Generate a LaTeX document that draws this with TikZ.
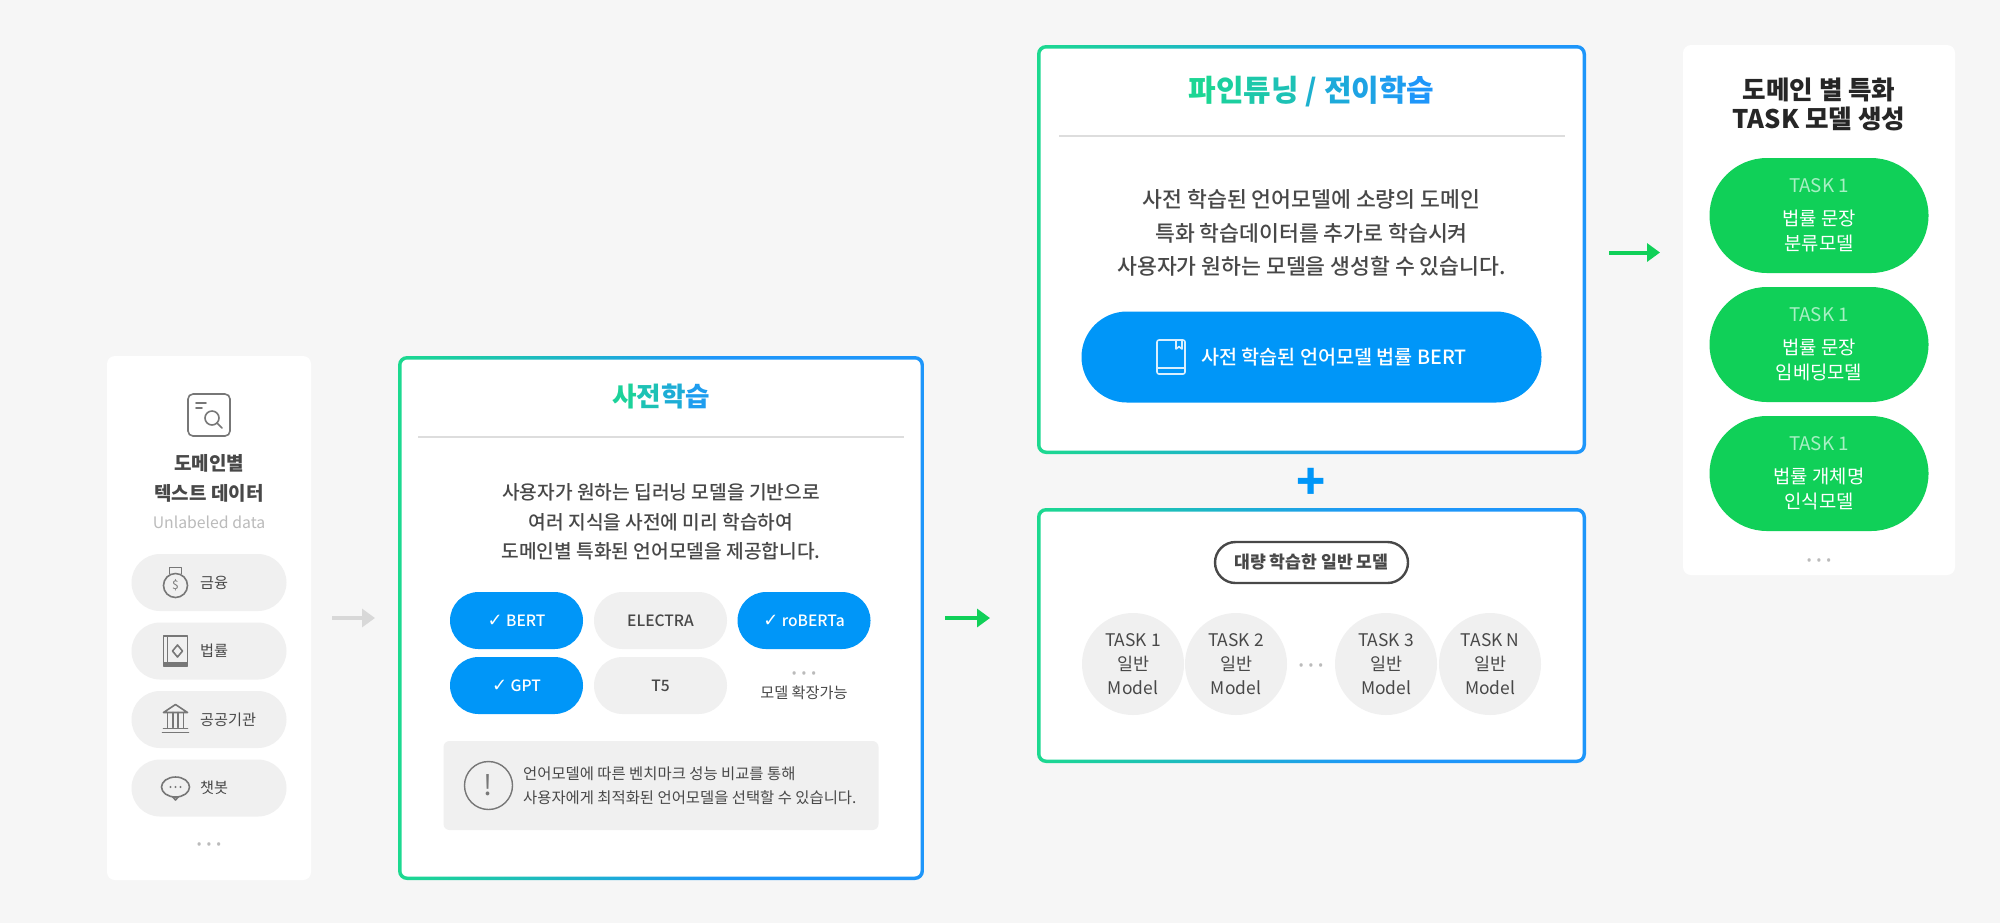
\documentclass[tikz,border=0pt]{standalone}
\usepackage{fontspec}
\setmainfont{Noto Sans CJK KR}
\newfontfamily\medfont{Noto Sans CJK KR Medium}
\newfontfamily\chkfont{DejaVu Sans}
\usepackage{xcolor}
\usetikzlibrary{positioning, arrows.meta, shapes.misc, calc}

\definecolor{pagegray}{HTML}{F6F6F6}
\definecolor{softgray}{HTML}{F0F0F0}
\definecolor{rulegray}{HTML}{DDDDDD}
\definecolor{textgray}{HTML}{484848}
\definecolor{icongray}{HTML}{777777}
\definecolor{dotgray}{HTML}{BBBBBB}
\definecolor{fillblue}{HTML}{0096F8}
\definecolor{fillgreen}{HTML}{10D058}
\definecolor{gradgreen}{HTML}{1CD98F}
\definecolor{gradblue}{HTML}{1E96FA}
\definecolor{arrowgray}{HTML}{D8D8D8}
\definecolor{tasklight}{HTML}{A8F0C4}

\pgfdeclarehorizontalshading{panelgrad}{100bp}{color(0bp)=(gradgreen); color(25bp)=(gradgreen); color(55bp)=(gradblue); color(100bp)=(gradblue)}
\newcommand{\gradch}[2]{\textcolor{gradgreen!#1!gradblue}{#2}}

\begin{document}
\begin{tikzpicture}[
        x=1pt, y=1pt,
        outer sep=0pt,
        bgpanel/.style  = {rectangle, fill=pagegray, minimum width=1000pt, minimum height=461.5pt, inner sep=0pt},
        card/.style     = {rectangle, rounded corners=4pt, fill=white, inner sep=0pt},
        panel/.style    = {rectangle, rounded corners=4.5pt, shading=panelgrad, inner sep=0pt},
        panelin/.style  = {rectangle, rounded corners=3pt, fill=white, inner sep=0pt},
        ruleline/.style = {rectangle, fill=rulegray, minimum height=1pt, inner sep=0pt},
        soft/.style     = {rounded rectangle, fill=softgray, inner sep=0pt},
        datapill/.style = {soft, minimum width=77.5pt, minimum height=28.5pt},
        datatext/.style = {font=\fontsize{7.6}{9}\selectfont, text=textgray, anchor=west},
        modelon/.style  = {rounded rectangle, fill=fillblue, inner sep=0pt, minimum width=66.5pt, minimum height=28.5pt, text=white, font=\fontsize{7.8}{9}\selectfont\medfont},
        modeloff/.style = {soft, minimum width=66.5pt, minimum height=28.5pt, text=textgray, font=\fontsize{7.8}{9}\selectfont\medfont},
        dots/.style     = {font=\fontsize{8}{9}\selectfont\bfseries, text=dotgray, yshift=-2pt},
        body/.style     = {align=center, text=textgray},
        taskdisc/.style = {circle, fill=softgray, minimum size=51pt, inner sep=0pt, align=center, text=textgray, font=\fontsize{8.7}{12}\selectfont},
        taskpill/.style = {rounded rectangle, fill=fillgreen, minimum width=109.5pt, minimum height=57.5pt, inner sep=0pt, align=center, text=white, font=\fontsize{9.4}{12.75}\selectfont},
        arrow/.style    = {-{Triangle[length=6.5pt, width=9pt]}, line width=2pt},
        icon/.style     = {draw=icongray, line width=0.8pt, line join=round, line cap=round},
    ]
    \node[bgpanel, anchor=north west] (bg) at (0,0) {};
    \useasboundingbox (bg.north west) rectangle (bg.south east);

    %---- data card ----
    \node[card, minimum width=102pt, minimum height=262pt, below right=178pt and 53.5pt of bg.north west] (datacard) {};
    \begin{scope}[shift={($(datacard.north)+(0,-29.5)$)}, icon]
        \draw[rounded corners=2.5pt] (-10.5,-10.5) rectangle (10.5,10.5);
        \draw (-6.5,6) -- (-1.5,6) (-6.5,3.5) -- (-3.5,3.5);
        \draw (1.5,-1.5) circle (3.5);
        \draw (4,-4) -- (6.5,-6.5);
    \end{scope}
    \node[font=\fontsize{9.5}{15}\selectfont\bfseries, align=center, text=textgray] (datatitle) at ($(datacard.north)+(0,-61)$) {도메인별\\텍스트 데이터};
    \node[font=\fontsize{7.9}{9}\selectfont, text=dotgray] (datasub) at ($(datacard.north)+(0,-83)$) {Unlabeled data};

    \node[datapill, below=99pt of datacard.north] (finance) {};
    \node[datapill, below=5.75pt of finance] (law) {};
    \node[datapill, below=5.75pt of law] (public) {};
    \node[datapill, below=5.75pt of public] (chatbot) {};
    \node[datatext] (financetext) at ($(finance.west)+(31,0)$) {금융};
    \node[datatext] (lawtext) at ($(law.west)+(31,0)$) {법률};
    \node[datatext] (publictext) at ($(public.west)+(31,0)$) {공공기관};
    \node[datatext] (chatbottext) at ($(chatbot.west)+(31,0)$) {챗봇};
    \node[dots] (datamore) at ($(datacard.south)+(0,18.5)$) {···};

    \begin{scope}[shift={($(finance.west)+(22,0)$)}, icon]
        \draw (0,-1.5) circle (6);
        \draw (-3,4.5) -- (-3,7.5) -- (3,7.5) -- (3,4.5);
        \node[font=\fontsize{6}{6}\selectfont, text=icongray] (dollar) at (0,-1.5) {\$};
    \end{scope}
    \begin{scope}[shift={($(law.west)+(22,0)$)}, icon]
        \draw (-6,-7.5) rectangle (6,7.5);
        \fill[icongray] (-6,-7.5) rectangle (6,-5.5);
        \draw (-4,-5.5) -- (-4,7.5);
        \draw (1,3) -- (3.5,0) -- (1,-3) -- (-1.5,0) -- cycle;
    \end{scope}
    \begin{scope}[shift={($(public.west)+(22,0)$)}, icon]
        \draw (-6,3.5) -- (0,7.5) -- (6,3.5) -- cycle;
        \draw (-4,3.5) -- (-4,-4) (-1.3,3.5) -- (-1.3,-4) (1.3,3.5) -- (1.3,-4) (4,3.5) -- (4,-4);
        \draw (-6,-4.5) -- (6,-4.5) (-6.5,-6.5) -- (6.5,-6.5);
    \end{scope}
    \begin{scope}[shift={($(chatbot.west)+(22,0)$)}, icon]
        \draw (0,0.5) ellipse (7 and 5);
        \draw (-1.5,-4.3) -- (0,-6) -- (1.5,-4.3);
        \fill[icongray] (-2.5,0.5) circle (0.6) (0,0.5) circle (0.6) (2.5,0.5) circle (0.6);
    \end{scope}

    %---- pretraining panel ----
    \node[panel, minimum width=263pt, minimum height=262pt, right=43.5pt of datacard] (pretrain) {};
    \node[panelin, minimum width=259.5pt, minimum height=258.5pt] (pretrainin) at (pretrain) {};
    \node[font=\fontsize{13.3}{15}\selectfont\bfseries] (pretitle) at ($(pretrain.north)+(0,-20)$) {\gradch{90}{사}\gradch{65}{전}\gradch{35}{학}\gradch{10}{습}};
    \node[ruleline, minimum width=243pt, below=40pt of pretrain.north] (prerule) {};
    \node[body, font=\fontsize{9.6}{14.75}\selectfont\medfont] (prebody) at ($(pretrain.north)+(0,-83)$) {사용자가 원하는 딥러닝 모델을 기반으로\\여러 지식을 사전에 미리 학습하여\\도메인별 특화된 언어모델을 제공합니다.};
    \node[modelon, below right=118pt and 40.25pt of pretrain.north west] (bert) {{\chkfont\fontsize{9}{9}\selectfont ✓} BERT};
    \node[modeloff, right=5.5pt of bert] (electra) {ELECTRA};
    \node[modelon, right=5.25pt of electra] (roberta) {{\chkfont\fontsize{9}{9}\selectfont ✓} roBERTa};
    \node[modelon, below=4pt of bert] (gpt) {{\chkfont\fontsize{9}{9}\selectfont ✓} GPT};
    \node[modeloff, right=5.5pt of gpt] (tfive) {T5};
    \node[dots] (modelmore) at ($(roberta.south)+(0,-11.5)$) {···};
    \node[font=\fontsize{7.6}{9}\selectfont, text=textgray] (modelgrow) at ($(roberta.south)+(0,-21.75)$) {모델 확장가능};

    \node[rectangle, rounded corners=3pt, fill=softgray, minimum width=217.5pt, minimum height=44.5pt, inner sep=0pt] (notebox) at ($(pretrain.south)+(0,47.25)$) {};
    \node[circle, draw=icongray, line width=0.7pt, minimum size=24pt, inner sep=0pt, text=icongray, font=\fontsize{14}{14}\selectfont] (notemark) at ($(notebox.west)+(22.5,0)$) {!};
    \node[anchor=west, align=left, text=textgray, font=\fontsize{7.7}{11.75}\selectfont] (notetext) at ($(notebox.west)+(36.5,0)$) {언어모델에 따른 벤치마크 성능 비교를 통해\\사용자에게 최적화된 언어모델을 선택할 수 있습니다.};

    %---- fine tuning panel ----
    \node[panel, minimum width=274.5pt, minimum height=204.5pt, below right=22.5pt and 518.5pt of bg.north west] (finetune) {};
    \node[panelin, minimum width=271pt, minimum height=201pt] (finetunein) at (finetune) {};
    \node[font=\fontsize{15}{17}\selectfont\bfseries] (finetitle) at ($(finetune.north)+(0,-23.5)$) {\gradch{95}{파}\gradch{85}{인}\gradch{75}{튜}\gradch{65}{닝} \gradch{40}{/} \gradch{30}{전}\gradch{20}{이}\gradch{10}{학}\gradch{0}{습}};
    \node[ruleline, minimum width=253pt, below=45pt of finetune.north] (finerule) {};
    \node[body, font=\fontsize{10.8}{16.75}\selectfont\medfont] (finebody) at ($(finetune.north)+(0,-94)$) {사전 학습된 언어모델에 소량의 도메인\\특화 학습데이터를 추가로 학습시켜\\사용자가 원하는 모델을 생성할 수 있습니다.};
    \node[rounded rectangle, fill=fillblue, minimum width=230pt, minimum height=45.5pt, inner sep=0pt] (lawbert) at ($(finetune.north)+(0,-156)$) {};
    \node[anchor=west, text=white, font=\fontsize{9.8}{11}\selectfont\medfont] (lawberttext) at ($(lawbert.west)+(56.5,0)$) {사전 학습된 언어모델 법률 BERT};
    \begin{scope}[shift={($(lawbert.west)+(44.75,0)$)}, icon, draw=white!85!fillblue]
        \draw[rounded corners=1pt] (-7,-8.5) rectangle (7,8.5);
        \draw (-7,-5.5) -- (7,-5.5);
        \draw (2.5,8.5) -- (2.5,4) -- (4,5.2) -- (5.5,4) -- (5.5,8.5);
    \end{scope}

    %---- plus sign and base models ----
    \node[panel, minimum width=274.5pt, minimum height=127.5pt, below=27pt of finetune] (basemodel) {};
    \node[panelin, minimum width=271pt, minimum height=124pt] (basemodelin) at (basemodel) {};
    \node[text=fillblue, font=\fontsize{24}{24}\selectfont\bfseries, inner sep=0pt, yshift=-1.5pt] (plussign) at ($(finetune.south)!0.5!(basemodel.north)$) {+};
    \node[rounded rectangle, draw=textgray, line width=1.2pt, fill=white, minimum width=96.5pt, minimum height=20.5pt, inner sep=0pt, text=textgray, font=\fontsize{8.6}{10}\selectfont\bfseries] (basetag) at ($(basemodel.north)+(0,-27.25)$) {대량 학습한 일반 모델};
    \node[taskdisc] (taskone) at ($(basemodel.south west)+(48,49.5)$) {TASK 1\\일반\\Model};
    \node[taskdisc, right=0.5pt of taskone] (tasktwo) {TASK 2\\일반\\Model};
    \node[taskdisc, right=24pt of tasktwo] (taskthree) {TASK 3\\일반\\Model};
    \node[taskdisc, right=1pt of taskthree] (taskn) {TASK N\\일반\\Model};
    \node[dots] (taskmore) at ($(tasktwo.east)!0.5!(taskthree.west)$) {···};

    %---- domain task card ----
    \node[card, minimum width=136pt, minimum height=265pt, below right=0pt and 48.5pt of finetune.north east] (taskcard) {};
    \node[font=\fontsize{12.8}{14.5}\selectfont\bfseries, align=center, text=black!85] (tasktitle) at ($(taskcard.north)+(0,-29.5)$) {도메인 별 특화\\TASK 모델 생성};
    \node[taskpill, below=56.5pt of taskcard.north] (lawclass) {\textcolor{tasklight}{TASK 1}\\[3.5pt]법률 문장\\분류모델};
    \node[taskpill, below=7pt of lawclass] (lawembed) {\textcolor{tasklight}{TASK 1}\\[3.5pt]법률 문장\\임베딩모델};
    \node[taskpill, below=7pt of lawembed] (lawner) {\textcolor{tasklight}{TASK 1}\\[3.5pt]법률 개체명\\인식모델};
    \node[dots] (cardmore) at ($(taskcard.south)+(0,8)$) {···};

    %---- arrows ----
    \draw[arrow, arrowgray, shorten <=10.5pt, shorten >=11.5pt] (datacard) -- (pretrain);
    \draw[arrow, fillgreen, shorten <=10.5pt, shorten >=23.5pt] (pretrain.east) -- (pretrain.east -| finetune.west);
    \draw[arrow, fillgreen, shorten <=11.5pt, shorten >=11.5pt] ([yshift=-1.5pt]finetune.east) -- ([yshift=-1.5pt]finetune.east -| taskcard.west);
\end{tikzpicture}
\end{document}
